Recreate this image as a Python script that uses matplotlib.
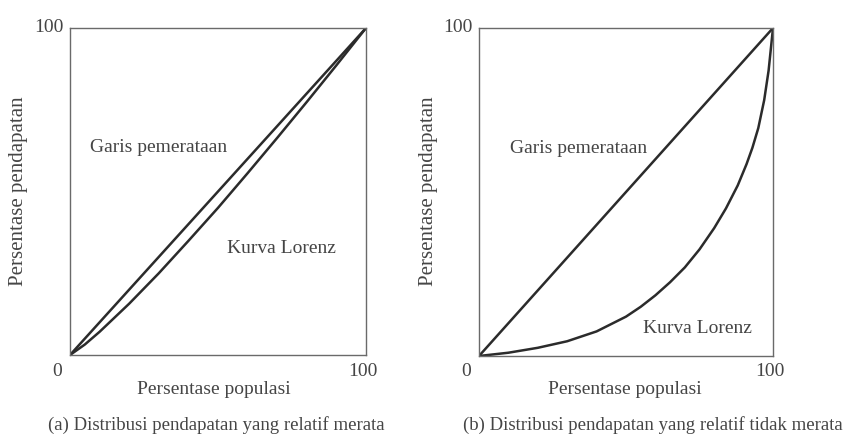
import matplotlib
matplotlib.use("Agg")
import matplotlib.pyplot as plt

# ---- data ----
equal_x = [0, 100]
equal_y = [0, 100]

# (a) relatively equal distribution
lorenz_a_x = [0, 5, 10, 20, 30, 40, 50, 60, 70, 80, 90, 100]
lorenz_a_y = [0, 3.2, 7.1, 15.7, 25, 34.9, 45, 55.6, 66.4, 77.4, 88.6, 100]

# (b) relatively unequal distribution
lorenz_b_x = [0, 10, 20, 30, 40, 50, 55, 60, 65, 70, 75, 80, 84, 88, 91, 93, 95, 97, 98.5, 100]
lorenz_b_y = [0, 1, 2.5, 4.5, 7.5, 12, 15, 18.5, 22.5, 27, 32.5, 39, 45, 52, 58.5, 63.5, 69.5, 78, 87, 100]

tick_min, tick_max = "0", "100"
ylabel = "Persentase pendapatan"
xlabel = "Persentase populasi"
label_equal = "Garis pemerataan"
label_lorenz = "Kurva Lorenz"
captions = ["(a) Distribusi pendapatan yang relatif merata",
            "(b) Distribusi pendapatan yang relatif tidak merata"]

plt.rcParams['font.family'] = ['Liberation Serif', 'DejaVu Serif']
TXT = "#454545"
LINE = "#2b2b2b"
FS = 14

W, H = 847, 441
fig = plt.figure(figsize=(W / 100, H / 100), dpi=100)

def frac_box(x0, x1, y0, y1):
    return [x0 / W, 1 - y1 / H, (x1 - x0) / W, (y1 - y0) / H]

panels = [
    dict(box=(70, 366, 28, 355), lx=lorenz_a_x, ly=lorenz_a_y,
         eq_pos=(0.068, 0.636), lz_pos=(0.53, 0.327), cap=captions[0],
         ylab_x=18, cap_x=216, cap_ha='center', xlab_x=214),
    dict(box=(479, 773, 28, 356), lx=lorenz_b_x, ly=lorenz_b_y,
         eq_pos=(0.105, 0.634), lz_pos=(0.558, 0.085), cap=captions[1],
         ylab_x=428, cap_x=843, cap_ha='right', xlab_x=625),
]

for p in panels:
    x0, x1, y0, y1 = p["box"]
    ax = fig.add_axes(frac_box(x0, x1, y0, y1))
    ax.plot(equal_x, equal_y, color=LINE, lw=1.8, solid_capstyle='round')
    ax.plot(p["lx"], p["ly"], color=LINE, lw=1.8, solid_capstyle='round',
            solid_joinstyle='round')
    ax.set_xlim(0, 100)
    ax.set_ylim(0, 100)
    ax.set_xticks([])
    ax.set_yticks([])
    for s in ax.spines.values():
        s.set_color("#6a6a6a")
        s.set_linewidth(1.0)
    ax.text(*p["eq_pos"], label_equal, transform=ax.transAxes, ha='left',
            va='center', fontsize=FS, color=TXT)
    ax.text(*p["lz_pos"], label_lorenz, transform=ax.transAxes, ha='left',
            va='center', fontsize=FS, color=TXT)
    # axis numbers
    fig.text((x0 - 6) / W, 1 - 27 / H, tick_max, ha='right', va='center',
             fontsize=FS, color=TXT)
    fig.text((x0 - 13) / W, 1 - 372 / H, tick_min, ha='center', va='center',
             fontsize=FS, color=TXT)
    fig.text((x1 - 3) / W, 1 - 372 / H, tick_max, ha='center', va='center',
             fontsize=FS, color=TXT)
    # axis labels
    fig.text(p["ylab_x"] / W, 1 - 191 / H, ylabel, rotation=90, ha='center',
             va='center', fontsize=15, color=TXT)
    fig.text(p["xlab_x"] / W, 1 - 390 / H, xlabel, ha='center', va='center',
             fontsize=FS, color=TXT)
    fig.text(p["cap_x"] / W, 1 - 425 / H, p["cap"], ha=p["cap_ha"],
             va='center', fontsize=13.5, color=TXT)

fig.savefig("out.png", dpi=100, facecolor="white")
